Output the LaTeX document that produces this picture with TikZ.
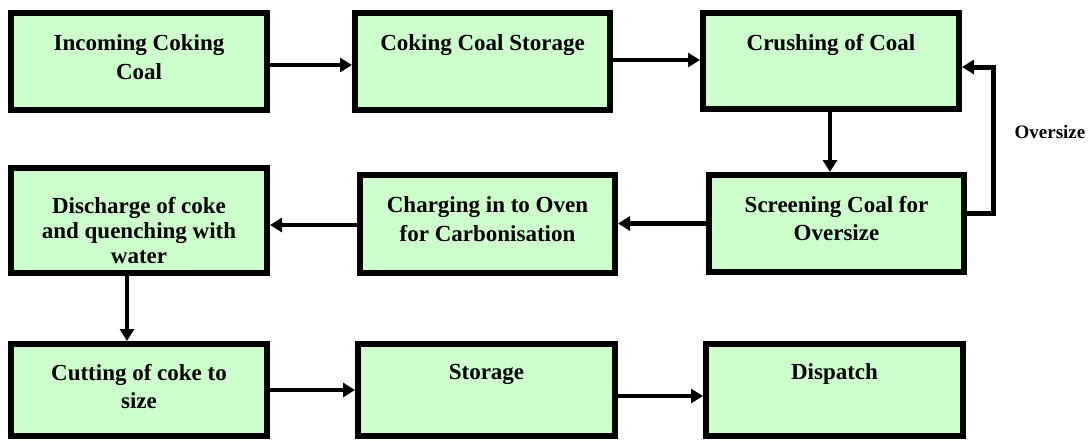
\documentclass[tikz,border=0pt]{standalone}
\usepackage{fontspec}
\setmainfont{Liberation Serif}
\usetikzlibrary{arrows.meta}
\definecolor{boxfill}{RGB}{204,255,204}
\newcommand\tstrut{\rule{0pt}{21pt}}
\begin{document}
\begin{tikzpicture}[x=1pt,y=-1pt,
  box/.style={draw=black, line width=6pt, fill=boxfill, rectangle, inner sep=0pt},
  txt/.style={anchor=north, inner sep=0pt, align=center, font=\fontsize{23}{29}\selectfont\bfseries},
  arr/.style={line width=4.5pt, -{Triangle[length=12pt,width=14pt]}},
  loop/.style={line width=5pt, -{Triangle[length=12pt,width=14pt]}}]
\useasboundingbox (0,0) rectangle (1092,440);
% boxes
\node[box, minimum width=256pt, minimum height=97pt] (b1) at (139,61.5) {};
\node[box, minimum width=255pt, minimum height=97pt] (b2) at (482.5,61.5) {};
\node[box, minimum width=256pt, minimum height=96pt] (b3) at (831,61) {};
\node[box, minimum width=256pt, minimum height=105pt] (b4) at (139,220.5) {};
\node[box, minimum width=255pt, minimum height=98pt] (b5) at (487.5,224) {};
\node[box, minimum width=255pt, minimum height=97pt] (b6) at (836.5,223.5) {};
\node[box, minimum width=256pt, minimum height=92pt] (b7) at (139,390) {};
\node[box, minimum width=257pt, minimum height=92pt] (b8) at (486.5,390) {};
\node[box, minimum width=257pt, minimum height=92pt] (b9) at (834.5,390) {};
% texts
\node[txt] (t1) at ([yshift=-19pt]b1.north) {\tstrut Incoming Coking\\Coal};
\node[txt] (t2) at ([yshift=-19pt]b2.north) {\tstrut Coking Coal Storage};
\node[txt] (t3) at ([yshift=-19pt]b3.north) {\tstrut Crushing of Coal};
\begin{scope}
\clip ([xshift=6pt]b4.north west) rectangle ([xshift=-6pt,yshift=12pt]b4.south east);
\node[txt, font=\fontsize{23}{25}\selectfont\bfseries] (t4) at ([yshift=-27pt]b4.north) {\tstrut Discharge of coke\\and quenching with\\water};
\end{scope}
\node[txt] (t5) at ([yshift=-19pt]b5.north) {\tstrut Charging in to Oven\\for Carbonisation};
\node[txt, font=\fontsize{23}{28}\selectfont\bfseries] (t6) at ([yshift=-19pt]b6.north) {\tstrut Screening Coal for\\Oversize};
\node[txt, font=\fontsize{23}{28}\selectfont\bfseries] (t7) at ([yshift=-18pt]b7.north) {\tstrut Cutting of coke to\\size};
\node[txt] (t8) at ([yshift=-17pt]b8.north) {\tstrut Storage};
\node[txt] (t9) at ([yshift=-17pt]b9.north) {\tstrut Dispatch};
\node[inner sep=0pt, font=\fontsize{19}{22}\selectfont\bfseries] (ov) at (1050,132) {Oversize};
% arrows
\coordinate (a2) at ([yshift=1.5pt]b2.east);
\coordinate (a5) at ([yshift=-1pt]b5.west);
\draw[arr] ([yshift=-3.5pt]b1.east) -- ([yshift=-3.5pt]b2.west);
\draw[arr] (a2) -- (b3.west |- a2);
\draw[arr] ([xshift=-1pt]b3.south) -- ([xshift=-6.5pt]b6.north);
\draw[arr] (b6.west) -- (b5.east |- b6.west);
\draw[arr] (a5) -- (b4.east |- a5);
\draw[arr] ([xshift=-12pt]b4.south) -- ([xshift=-12pt]b7.north);
\draw[arr] (b7.east) -- (b8.west);
\draw[arr] ([yshift=-6pt]b8.east) -- ([yshift=-6pt]b9.west);
% oversize loop
\coordinate (c1) at (993,213);
\coordinate (c2) at (993,67);
\draw[loop] (b6.east |- c1) -- (c1) -- (c2) -- (b3.east |- c2);
\end{tikzpicture}
\end{document}
